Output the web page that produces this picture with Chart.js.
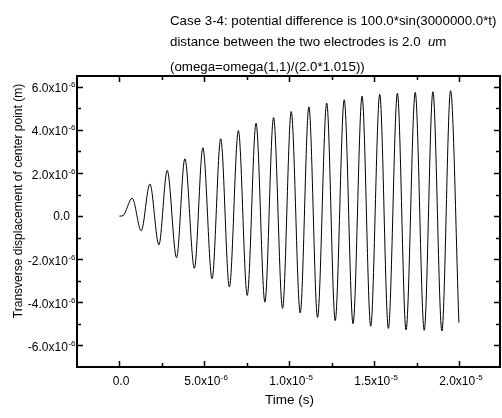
<!DOCTYPE html>
<html>
<head>
<meta charset="utf-8">
<script src="https://cdn.jsdelivr.net/npm/chart.js@4/dist/chart.umd.min.js"></script>
<style>
  html, body { margin:0; padding:0; background:#fff; }
  #wrap { width:502px; height:418px; }
</style>
</head>
<body>
<div id="wrap"><canvas id="beatChart" width="502" height="418"></canvas></div>
<script>
// time (s) of the read points: start, then peaks and troughs, then end of run
const times = [
  0, 0.2e-6, 0.75e-6, 1.28e-6, 1.79e-6, 2.32e-6, 2.81e-6, 3.36e-6, 3.85e-6, 4.41e-6,
  4.91e-6, 5.45e-6, 5.96e-6, 6.47e-6, 7.00e-6, 7.52e-6, 8.04e-6, 8.56e-6, 9.07e-6, 9.60e-6,
  10.11e-6, 10.64e-6, 11.15e-6, 11.66e-6, 12.20e-6, 12.70e-6, 13.23e-6, 13.75e-6, 14.28e-6, 14.79e-6,
  15.32e-6, 15.83e-6, 16.36e-6, 16.87e-6, 17.41e-6, 17.94e-6, 18.45e-6, 18.98e-6, 19.49e-6, 19.98e-6
];
// transverse displacement of center point (m)
const displacement = [
  0, 0.02e-6, 0.83e-6, -0.68e-6, 1.49e-6, -1.33e-6, 2.12e-6, -1.93e-6, 2.66e-6, -2.42e-6,
  3.17e-6, -2.91e-6, 3.59e-6, -3.29e-6, 3.97e-6, -3.68e-6, 4.31e-6, -3.99e-6, 4.57e-6, -4.28e-6,
  4.85e-6, -4.49e-6, 5.07e-6, -4.70e-6, 5.25e-6, -4.85e-6, 5.40e-6, -4.99e-6, 5.56e-6, -5.11e-6,
  5.65e-6, -5.21e-6, 5.70e-6, -5.28e-6, 5.74e-6, -5.30e-6, 5.77e-6, -5.33e-6, 5.82e-6, -4.94e-6
];

// axis ticks and their labels (mantissa + exponent)
const xMajorTicks = [0, 5e-6, 1e-5, 1.5e-5, 2e-5];
const xMinorTicks = [2.5e-6, 7.5e-6, 1.25e-5, 1.75e-5];
const xTickMantissa = ['0.0', '5.0x10', '1.0x10', '1.5x10', '2.0x10'];
const xTickExponent = ['', '-6', '-5', '-5', '-5'];

const yMajorTicks = [6e-6, 4e-6, 2e-6, 0, -2e-6, -4e-6, -6e-6];
const yMinorTicks = [5e-6, 3e-6, 1e-6, -1e-6, -3e-6, -5e-6];
const yTickMantissa = ['6.0x10', '4.0x10', '2.0x10', '0.0', '-2.0x10', '-4.0x10', '-6.0x10'];
const yTickExponent = ['-6', '-6', '-6', '', '-6', '-6', '-6'];

// second title line is split so the "u" can be italic
const titleLine1 = 'Case 3-4: potential difference is 100.0*sin(3000000.0*t)';
const titleLine2 = ['distance between the two electrodes is 2.0  ', 'u', 'm'];
const titleLine3 = '(omega=omega(1,1)/(2.0*1.015))';
const xTitle = 'Time (s)';
const yTitle = 'Transverse displacement of center point (m)';

const FONT = "'Liberation Sans', Arial, sans-serif";

function sciWidth(ctx, mant, exp) {
  ctx.font = '12px ' + FONT;
  let w = ctx.measureText(mant).width;
  ctx.font = '8px ' + FONT;
  if (exp) w += ctx.measureText(exp).width;
  return w;
}

function drawSci(ctx, mant, exp, x, y) {
  // x is the left start, y the baseline
  ctx.textAlign = 'left';
  ctx.textBaseline = 'alphabetic';
  ctx.font = '12px ' + FONT;
  ctx.fillText(mant, x, y);
  const w = ctx.measureText(mant).width;
  if (exp) {
    ctx.font = '8px ' + FONT;
    ctx.fillText(exp, x + w + 0.5, y - 5);
  }
}

const framePlugin = {
  id: 'originFrame',
  afterDraw(chart) {
    const ctx = chart.ctx;
    const a = chart.chartArea;
    const xs = chart.scales.x, ys = chart.scales.y;
    ctx.save();
    ctx.strokeStyle = '#000';
    ctx.fillStyle = '#000';

    // frame
    ctx.lineWidth = 2;
    ctx.strokeRect(a.left, a.top, a.right - a.left, a.bottom - a.top);

    // inward ticks on all four sides
    ctx.lineWidth = 1.5;
    ctx.beginPath();
    const xt = (v, len) => {
      const px = Math.round(xs.getPixelForValue(v)) + 0.5;
      ctx.moveTo(px, a.bottom); ctx.lineTo(px, a.bottom - len);
      ctx.moveTo(px, a.top); ctx.lineTo(px, a.top + len);
    };
    const yt = (v, len) => {
      const py = Math.round(ys.getPixelForValue(v)) + 0.5;
      ctx.moveTo(a.left, py); ctx.lineTo(a.left + len, py);
      ctx.moveTo(a.right, py); ctx.lineTo(a.right - len, py);
    };
    xMajorTicks.forEach(v => xt(v, 6));
    xMinorTicks.forEach(v => xt(v, 4));
    yMajorTicks.forEach(v => yt(v, 6));
    yMinorTicks.forEach(v => yt(v, 4));
    ctx.stroke();

    // x tick labels
    xMajorTicks.forEach((v, i) => {
      const px = xs.getPixelForValue(v) + 1.5;
      const w = sciWidth(ctx, xTickMantissa[i], xTickExponent[i]);
      drawSci(ctx, xTickMantissa[i], xTickExponent[i], px - w / 2, a.bottom + 18);
    });

    // y tick labels
    yMajorTicks.forEach((v, i) => {
      const py = ys.getPixelForValue(v);
      const exp = yTickExponent[i];
      const w = sciWidth(ctx, yTickMantissa[i], exp);
      const right = exp ? a.left - 2 : a.left - 7;
      drawSci(ctx, yTickMantissa[i], exp, right - w, py + (exp ? 5.6 : 4.3));
    });

    // axis titles
    ctx.textAlign = 'center';
    ctx.textBaseline = 'alphabetic';
    ctx.font = '13.5px ' + FONT;
    ctx.fillText(xTitle, 289.5, 404);
    ctx.font = '12px ' + FONT;
    ctx.save();
    ctx.translate(22, 201);
    ctx.rotate(-Math.PI / 2);
    ctx.fillText(yTitle, 0, 0);
    ctx.restore();

    // title block
    ctx.textAlign = 'left';
    ctx.font = '13.3px ' + FONT;
    ctx.fillText(titleLine1, 170, 25);
    let tx = 170;
    ctx.fillText(titleLine2[0], tx, 46);
    tx += ctx.measureText(titleLine2[0]).width;
    ctx.font = 'italic 13.3px ' + FONT;
    ctx.fillText(titleLine2[1], tx, 46);
    tx += ctx.measureText(titleLine2[1]).width;
    ctx.font = '13.3px ' + FONT;
    ctx.fillText(titleLine2[2], tx, 46);
    ctx.fillText(titleLine3, 170, 71);

    ctx.restore();
  }
};

const points = times.map((t, i) => ({ x: t, y: displacement[i] }));

new Chart(document.getElementById('beatChart').getContext('2d'), {
  type: 'line',
  data: {
    datasets: [{
      data: points,
      borderColor: '#000',
      borderWidth: 1,
      pointRadius: 0,
      fill: false,
      cubicInterpolationMode: 'monotone'
    }]
  },
  options: {
    responsive: false,
    animation: false,
    layout: { padding: { left: 77, top: 76, right: 2, bottom: 51 } },
    plugins: { legend: { display: false }, tooltip: { enabled: false }, title: { display: false } },
    scales: {
      x: { type: 'linear', min: -2.5e-6, max: 2.24e-5, display: false },
      y: { type: 'linear', min: -7e-6, max: 6.5e-6, display: false }
    }
  },
  plugins: [framePlugin]
});
</script>
</body>
</html>
